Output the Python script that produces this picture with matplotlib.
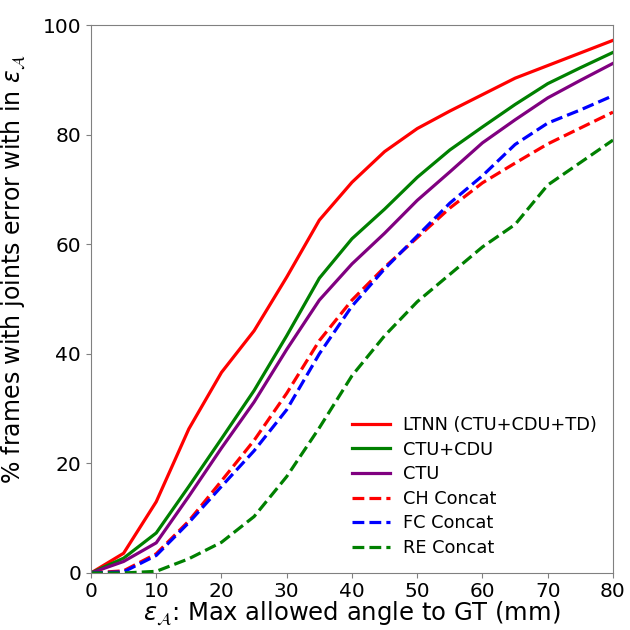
import matplotlib
matplotlib.use('Agg')
import matplotlib.pyplot as plt

# threshold in mm
thresholds = [0, 5, 10, 15, 20, 25, 30, 35, 40, 45, 50, 55, 60, 65, 70, 75, 80]

ltnn = [0, 3.6, 13.0, 26.3, 36.6, 44.2, 54.0, 64.4, 71.3, 76.9, 81.1, 84.3, 87.3, 90.3, 92.6, 94.9, 97.2]
ctu_cdu = [0, 2.7, 7.3, 15.8, 24.5, 33.3, 43.3, 53.8, 61.0, 66.4, 72.2, 77.2, 81.4, 85.5, 89.3, 92.2, 95.0]
ctu = [0, 2.1, 5.5, 14.0, 22.8, 31.2, 40.8, 49.8, 56.4, 62.0, 68.0, 73.2, 78.5, 82.7, 86.7, 89.9, 93.0]
ch_concat = [0, 0.4, 3.5, 9.5, 16.8, 24.2, 32.8, 42.4, 49.8, 55.8, 61.2, 66.6, 71.2, 74.8, 78.3, 81.2, 84.1]
fc_concat = [0, 0.2, 3.2, 9.2, 15.8, 22.3, 29.8, 40.0, 48.7, 55.5, 61.5, 67.5, 72.5, 78.2, 82.1, 84.5, 87.1]
re_concat = [0, 0.0, 0.3, 2.6, 5.6, 10.3, 17.6, 26.5, 36.0, 43.3, 49.5, 54.5, 59.5, 63.6, 70.8, 74.9, 79.0]

fig = plt.figure(figsize=(6.3, 6.3), dpi=100)
ax = fig.add_axes([0.1444, 0.0905, 0.8286, 0.8698])

lw = 2.3
ax.plot(thresholds, ltnn, color='red', lw=lw, label='LTNN (CTU+CDU+TD)')
ax.plot(thresholds, ctu_cdu, color='green', lw=lw, label='CTU+CDU')
ax.plot(thresholds, ctu, color='purple', lw=lw, label='CTU')
ax.plot(thresholds, ch_concat, color='red', lw=lw, ls='--', label='CH Concat')
ax.plot(thresholds, fc_concat, color='blue', lw=lw, ls='--', label='FC Concat')
ax.plot(thresholds, re_concat, color='green', lw=lw, ls='--', label='RE Concat')

ax.set_xlim(0, 80)
ax.set_ylim(0, 100)
ax.set_xticks(range(0, 81, 10))
ax.set_yticks(range(0, 101, 20))
ax.tick_params(labelsize=14.5, color='gray', length=3.5)
ax.tick_params(axis='x', pad=3)
for s in ax.spines.values():
    s.set_color('gray')

ax.set_xlabel(r'$\varepsilon_\mathcal{A}$: Max allowed angle to GT (mm)', fontsize=17.5, labelpad=-1)
ax.set_ylabel(r'% frames with joints error with in $\varepsilon_\mathcal{A}$', fontsize=17)
ax.yaxis.set_label_coords(-0.12, 0.555)

ax.legend(loc='lower right', frameon=False, fontsize=12.8, handlelength=2.1,
          handletextpad=0.75, borderaxespad=0.5, labelspacing=0.37)

fig.savefig('out.png', dpi=100)
